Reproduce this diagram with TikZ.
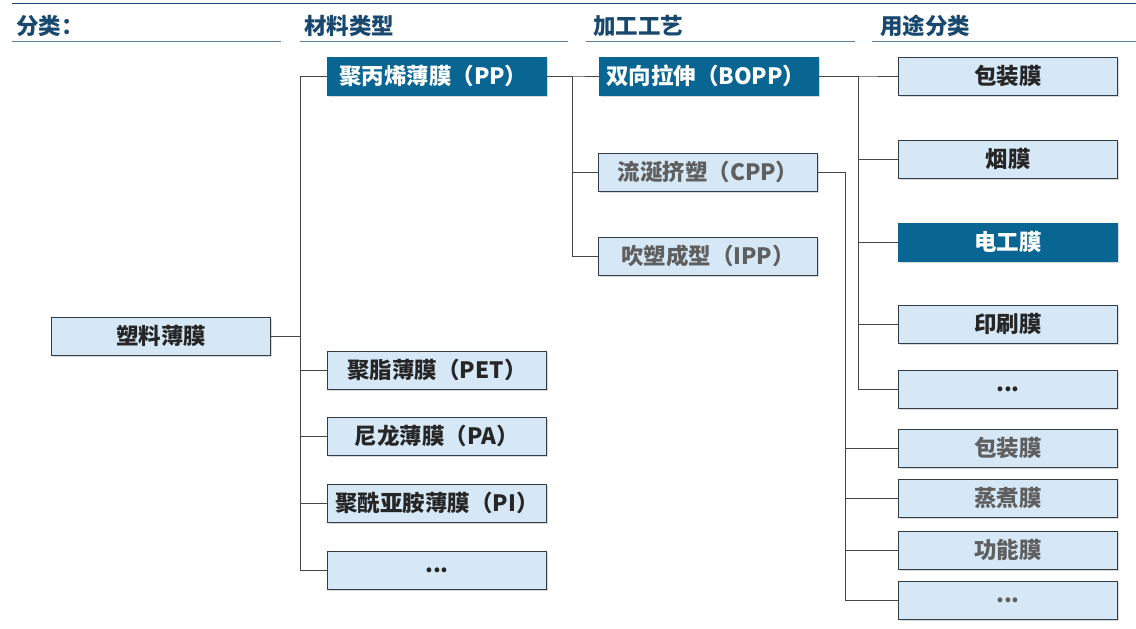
\documentclass[tikz,border=0pt]{standalone}
\usepackage{fontspec}
\setmainfont{Noto Sans CJK SC}
\usetikzlibrary{shadows}
\definecolor{boxfill}{RGB}{214,232,246}
\definecolor{boxline}{RGB}{50,60,70}
\definecolor{darkfill}{RGB}{9,101,146}
\definecolor{headblue}{RGB}{24,72,110}
\definecolor{rulblue}{RGB}{90,130,160}
\definecolor{linegrey}{RGB}{70,70,70}
\definecolor{textgrey}{RGB}{95,95,95}

\begin{document}
\begin{tikzpicture}[x=1pt,y=-1pt,
  every node/.style={font=\bfseries\fontsize{22.5}{25}\selectfont},
  box/.style={draw=boxline, fill=boxfill, line width=0.9pt, minimum width=219pt,
    minimum height=38pt, inner sep=0pt, text=black!85,
    drop shadow={shadow xshift=1.5pt, shadow yshift=-1.5pt, opacity=0.3}},
  darkbox/.style={box, draw=darkfill, fill=darkfill, text=white},
  greybox/.style={box, text=textgrey},
  head/.style={anchor=west, text=headblue, inner sep=0pt},
  conn/.style={draw=linegrey, line width=1pt}]
  \useasboundingbox (0,0) rectangle (1136,629);

  % headers
  \draw[headblue, line width=0.8pt] (12,3) -- (1136,3);
  \node[head] (h1) at (16,26) {分类：};
  \node[head] (h2) at (304,26) {材料类型};
  \node[head] (h3) at (593,26) {加工工艺};
  \node[head] (h4) at (880,26) {用途分类};
  \draw[rulblue, line width=1pt] (12,41) -- (281,41);
  \draw[rulblue, line width=1pt] (300,41) -- (568,41);
  \draw[rulblue, line width=1pt] (586,41) -- (855,41);
  \draw[rulblue, line width=1pt] (872,41) -- (1136,41);

  % boxes
  \node[box] (film) at (161,336) {塑料薄膜};
  \node[darkbox, text width=196pt, align=left] (pp) at (437,76) {聚丙烯薄膜（PP）};
  \node[box] (pet) at (437,370) {聚脂薄膜（PET）};
  \node[box] (pa) at (437,436) {尼龙薄膜（PA）};
  \node[box] (pi) at (437,503) {聚酰亚胺薄膜（PI）};
  \node[box] (mdots) at (437,570) {...};

  \node[darkbox, text width=206pt, align=left] (bopp) at (709,76) {双向拉伸（BOPP）};
  \node[greybox] (cpp) at (708,172) {流涎挤塑（CPP）};
  \node[greybox] (ipp) at (708,256) {吹塑成型（IPP）};

  \node[box] (u1) at (1008,76) {包装膜};
  \node[box] (u2) at (1008,159) {烟膜};
  \node[darkbox] (u3) at (1008,242) {电工膜};
  \node[box] (u4) at (1008,324) {印刷膜};
  \node[box] (u5) at (1008,389) {...};
  \node[greybox] (v1) at (1008,448) {包装膜};
  \node[greybox] (v2) at (1008,498) {蒸煮膜};
  \node[greybox] (v3) at (1008,550) {功能膜};
  \node[greybox] (v4) at (1008,600) {...};

  % connectors
  \coordinate (j1) at (300,336);
  \coordinate (j2) at (572,76);
  \coordinate (j3) at (858,76);
  \coordinate (j4) at (845,172);
  \foreach \c in {pp,pet,pa,pi,mdots}
    \draw[conn] (film.east) -- (j1) |- (\c.west);
  \foreach \c in {bopp,cpp,ipp}
    \draw[conn] (pp.east) -- (j2) |- (\c.west);
  \foreach \c in {u1,u2,u3,u4,u5}
    \draw[conn] (bopp.east) -- (j3) |- (\c.west);
  \foreach \c in {v1,v2,v3,v4}
    \draw[conn] (cpp.east) -- (j4) |- (\c.west);
\end{tikzpicture}
\end{document}
